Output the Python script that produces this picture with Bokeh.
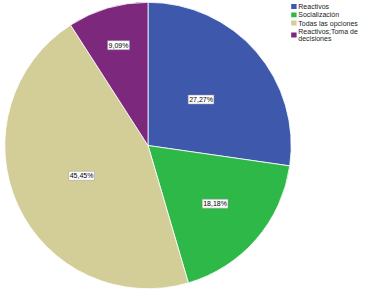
import math
from bokeh.plotting import figure
from bokeh.models import Range1d, ColumnDataSource
from bokeh.core.properties import value
from bokeh.embed import file_html
from bokeh.resources import INLINE

categories = ["Reactivos", "Socialización", "Todas las opciones", "Reactivos;Toma de decisiones"]
legend_lines = [["Reactivos"], ["Socialización"], ["Todas las opciones"], ["Reactivos;Toma de", "decisiones"]]
percents = [27.27, 18.18, 45.45, 9.09]
pct_labels = ["27,27%", "18,18%", "45,45%", "9,09%"]
colors = ["#3E58AC", "#2EB848", "#D3CE97", "#7C287D"]

W, H = 388, 293
p = figure(width=W, height=H, output_backend="svg", toolbar_location=None,
           x_range=Range1d(0, W), y_range=Range1d(0, H), min_border=0)
p.axis.visible = False
p.grid.visible = False
p.outline_line_color = None
p.background_fill_color = "white"
p.border_fill_color = "white"

cx, cy, r = 147.5, H - 145, 143.2
total = sum(percents)
starts, ends, mids = [], [], []
a = math.pi / 2
for v in percents:
    sweep = 2 * math.pi * v / total
    starts.append(a)
    ends.append(a - sweep)
    mids.append(a - sweep / 2)
    a -= sweep

src = ColumnDataSource(dict(start=starts, end=ends, color=colors))
p.wedge(x=cx, y=cy, radius=r, start_angle="start", end_angle="end", direction="clock",
        fill_color="color", line_color="white", line_width=0.8, source=src)

fracs = [0.49, 0.62, 0.51, 0.73]
lx = [cx + f * r * math.cos(m) for f, m in zip(fracs, mids)]
ly = [cy + f * r * math.sin(m) for f, m in zip(fracs, mids)]
p.text(x=lx, y=ly, text=pct_labels, text_font=value("Liberation Sans"), text_font_size="7px",
       text_align="center", text_baseline="middle", text_color="#000000",
       background_fill_color="white", border_line_color="#999999", border_line_width=0.5,
       padding=1)

# legend
ys = [6, 14.4, 22.5, 34.5]
sq_x = 293.4
p.rect(x=[sq_x] * 4, y=[H - y for y in ys], width=5.4, height=4.8, fill_color=colors,
       line_color=None)
tx, ty, tt = [], [], []
for y, lines in zip(ys, legend_lines):
    n = len(lines)
    for i, t in enumerate(lines):
        tx.append(297.8)
        ty.append(H - (y + (i - (n - 1) / 2) * 6.8))
        tt.append(t)
p.text(x=tx, y=ty, text=tt, text_font=value("Liberation Sans"), text_font_size="7px",
       text_align="left", text_baseline="middle", text_color="#222222")

open("out.html", "w").write(file_html(p, INLINE))
